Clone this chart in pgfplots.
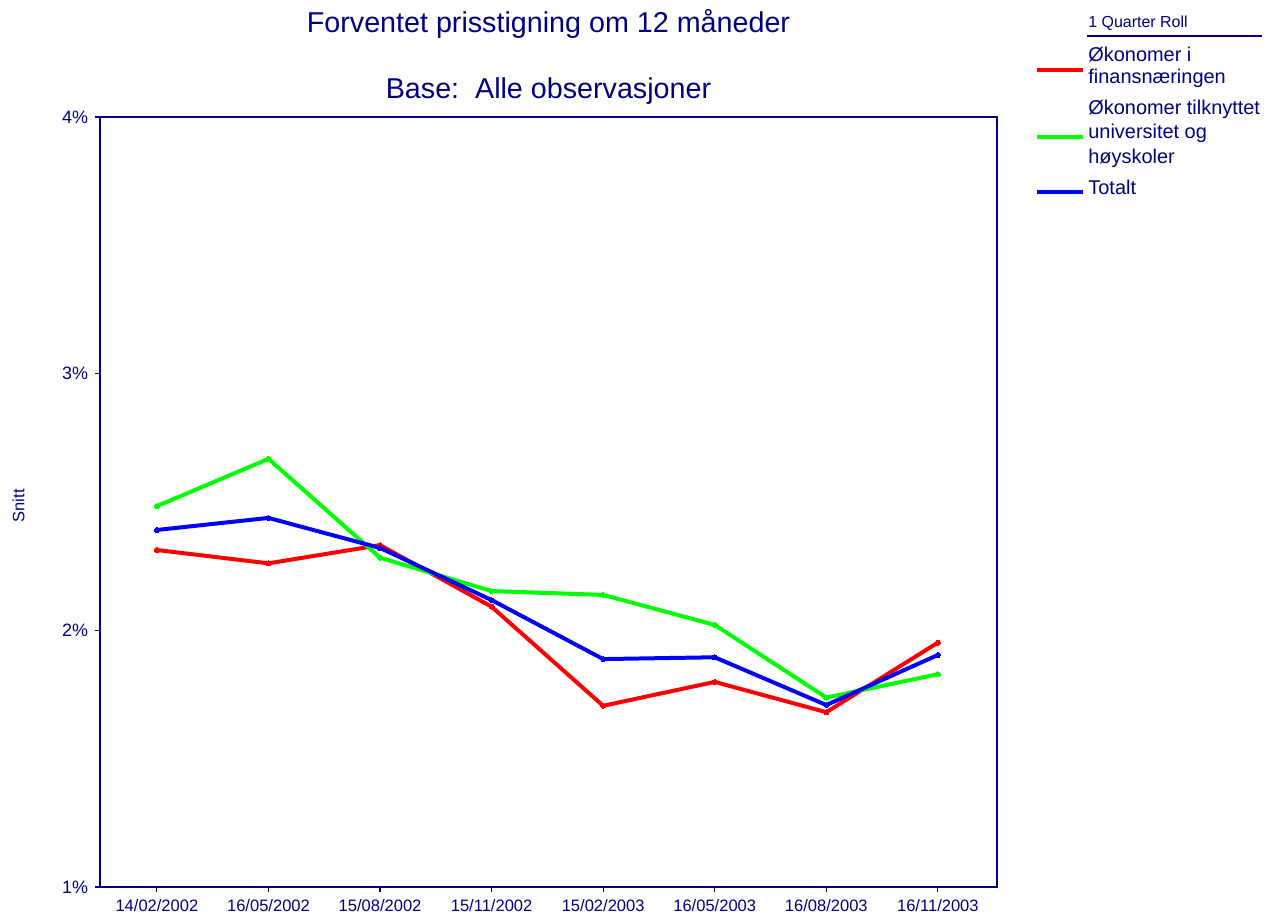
\documentclass[border=0pt]{standalone}
\usepackage{fontspec}
\setmainfont{Liberation Sans}
\usepackage{pgfplots}
\pgfplotsset{compat=1.18}
\definecolor{navy}{RGB}{0,0,128}
\definecolor{rred}{RGB}{255,0,0}
\definecolor{ggreen}{RGB}{0,255,0}
\definecolor{bblue}{RGB}{0,0,255}
\begin{document}
\begin{tikzpicture}
\path[use as bounding box] (0,0) rectangle (638bp,456bp);
\begin{axis}[
  at={(50bp,12.5bp)}, anchor=south west,
  scale only axis, width=448.5bp, height=385bp,
  xmin=-0.51, xmax=7.53, ymin=1, ymax=4,
  xtick={0,...,7},
  xticklabels={14/02/2002,16/05/2002,15/08/2002,15/11/2002,15/02/2003,16/05/2003,16/08/2003,16/11/2003},
  ytick={1,2,3,4},
  yticklabel={\pgfmathprintnumber{\tick}\%},
  /pgf/number format/assume math mode=true,
  xtick pos=left, ytick pos=left,
  tick align=outside, major tick length=2.5bp,
  tick style={navy, line width=0.6bp},
  axis line style={navy, line width=0.75bp},
  ticklabel style={text=navy},
  xticklabel style={font=\fontsize{8.3}{10}\selectfont},
  yticklabel style={font=\fontsize{9}{10.8}\selectfont},
  ylabel={Snitt},
  ylabel style={at={(axis description cs:-0.091,0.495)}, anchor=center, font=\fontsize{8.3}{10}\selectfont, text=navy},
  title={Forventet prisstigning om 12 måneder\\[16.2bp]Base:\ \ Alle observasjoner},
  title style={align=center, font=\fontsize{14.4}{16.8}\selectfont, text=navy, inner sep=0pt, yshift=0bp},
  every axis plot/.append style={line width=2bp, line join=round, mark=*, mark size=1.25bp},
]
\addplot[rred, mark options={fill=rred, draw=rred, line width=0pt}] coordinates {
(0,2.313) (1,2.261) (2,2.332) (3,2.092) (4,1.706) (5,1.799) (6,1.681) (7,1.952)};
\addplot[ggreen, mark options={fill=ggreen, draw=ggreen, line width=0pt}] coordinates {
(0,2.484) (1,2.668) (2,2.283) (3,2.153) (4,2.138) (5,2.021) (6,1.738) (7,1.829)};
\addplot[bblue, mark options={fill=bblue, draw=bblue, line width=0pt}] coordinates {
(0,2.391) (1,2.438) (2,2.321) (3,2.118) (4,1.888) (5,1.895) (6,1.709) (7,1.904)};
\end{axis}
% legend
\begin{scope}[every node/.style={anchor=base west, inner sep=0pt, text=navy, font=\fontsize{10}{12}\selectfont}]
\node[font=\fontsize{8}{9.6}\selectfont] at (544bp,442bp) {1 Quarter Roll};
\draw[navy, line width=0.9bp] (543.5bp,438.1bp) -- (631bp,438.1bp);
\draw[rred, line width=2bp] (518.5bp,421bp) -- (541.5bp,421bp);
\node at (544bp,425bp) {Økonomer i};
\node at (544bp,414.3bp) {finansnæringen};
\draw[ggreen, line width=2bp] (518.5bp,387.7bp) -- (541.5bp,387.7bp);
\node at (544bp,398.5bp) {Økonomer tilknyttet};
\node at (544bp,386.6bp) {universitet og};
\node at (544bp,374.4bp) {høyskoler};
\draw[bblue, line width=2bp] (518.5bp,360.2bp) -- (541.5bp,360.2bp);
\node at (544bp,358.8bp) {Totalt};
\end{scope}
\end{tikzpicture}
\end{document}
